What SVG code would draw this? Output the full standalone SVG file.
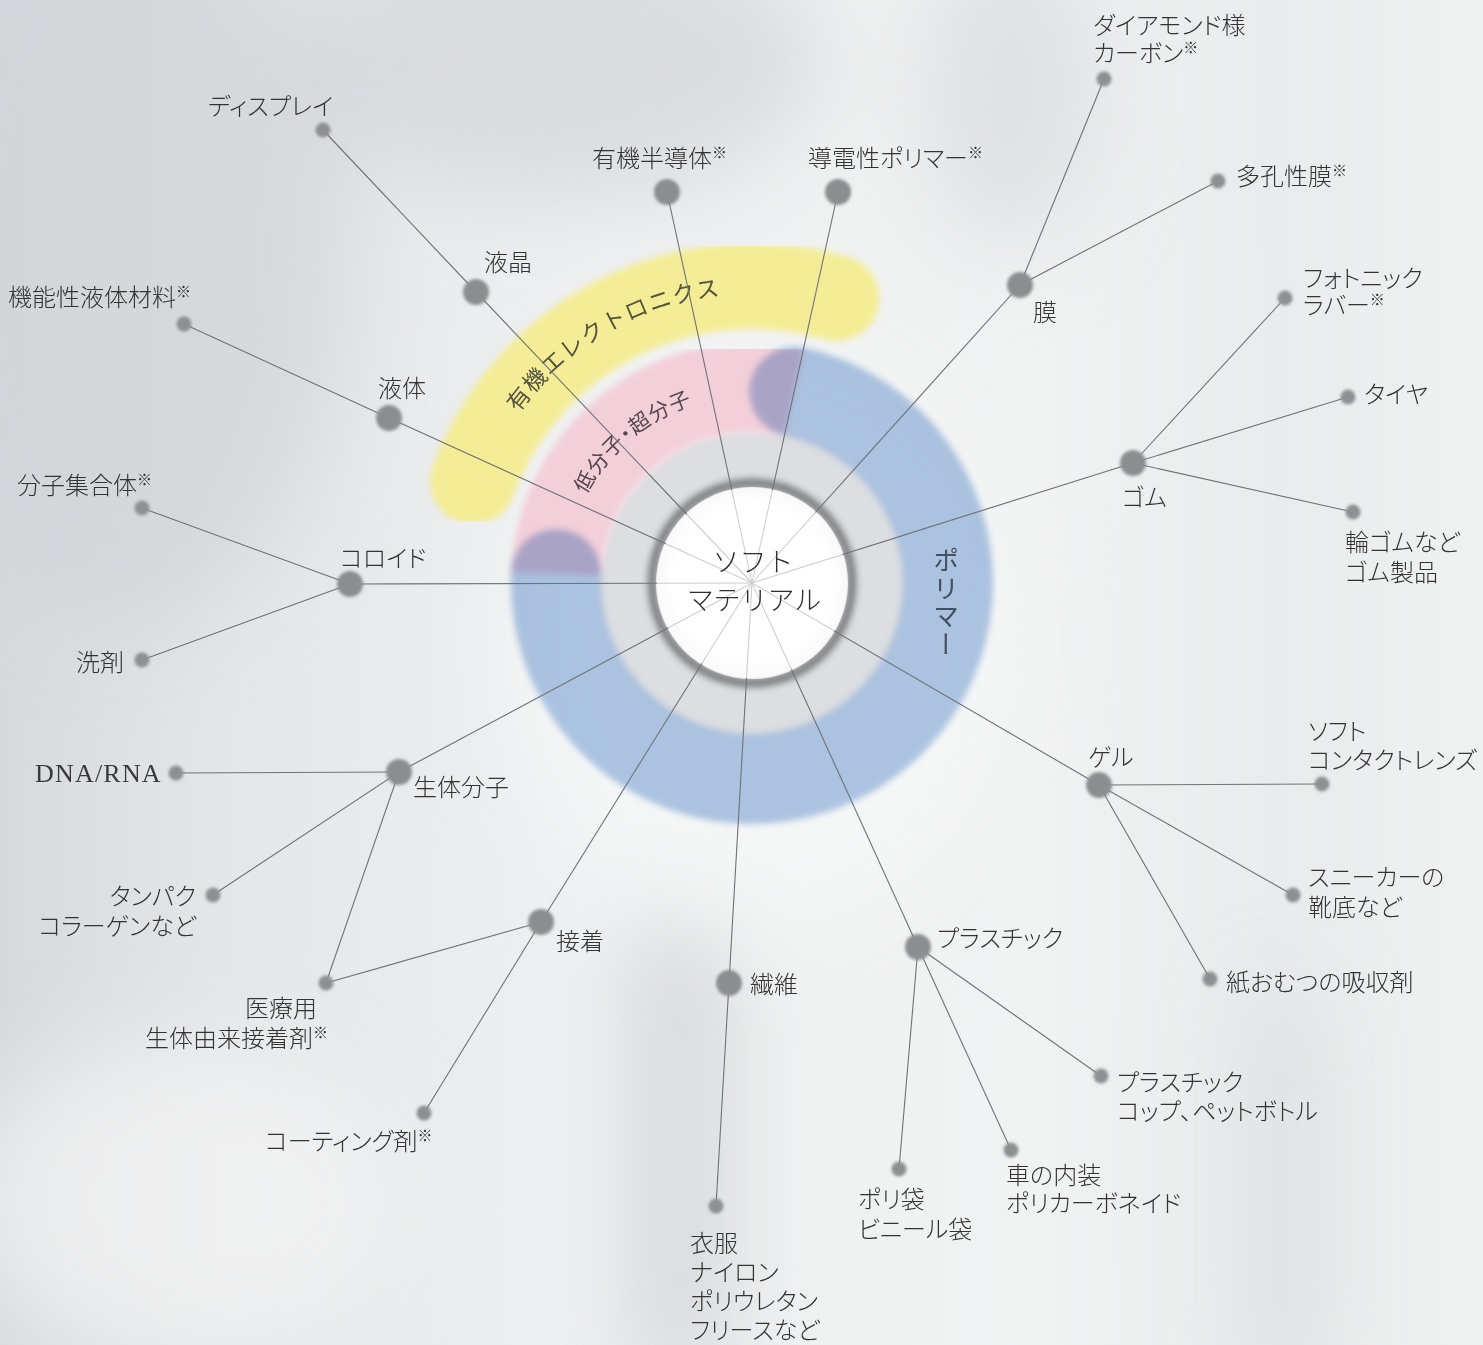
<svg xmlns="http://www.w3.org/2000/svg" width="1483" height="1345" viewBox="0 0 1483 1345">
  <defs>
    <linearGradient id="bg" x1="0" y1="0" x2="1" y2="0">
      <stop offset="0" stop-color="#d7dadd"/>
      <stop offset="0.15" stop-color="#e4e6e8"/>
      <stop offset="0.4" stop-color="#eef0f1"/>
      <stop offset="0.7" stop-color="#f1f2f2"/>
      <stop offset="0.86" stop-color="#e9ebec"/>
      <stop offset="1" stop-color="#f0f1f1"/>
    </linearGradient>
    <radialGradient id="whiteDisc" cx="0.5" cy="0.5" r="0.5">
      <stop offset="0" stop-color="#ffffff"/>
      <stop offset="0.8" stop-color="#ffffff"/>
      <stop offset="1" stop-color="#eeeeef"/>
    </radialGradient>
    <filter id="bigBlur" x="-50%" y="-50%" width="200%" height="200%">
      <feGaussianBlur stdDeviation="45"/>
    </filter>
    <filter id="bandBlur" x="-20%" y="-20%" width="140%" height="140%">
      <feGaussianBlur stdDeviation="3"/>
    </filter>
    <filter id="ringBlur" x="-20%" y="-20%" width="140%" height="140%">
      <feGaussianBlur stdDeviation="3"/>
    </filter>
    <filter id="dotBlur" x="-50%" y="-50%" width="200%" height="200%">
      <feGaussianBlur stdDeviation="1.5"/>
    </filter>
    <path id="yellowText" d="M 518.2 413.1 A 289 289 0 0 1 777.2 295.1"/>
    <path id="pinkText" d="M 586 494.7 A 188 188 0 0 1 735.6 395.7"/>
  </defs>
  <style>
    text { font-family: "Noto Sans CJK JP", "Noto Sans", sans-serif; font-weight: 300; fill: #333333; font-size: 24px; font-feature-settings: "palt"; }
    .k { font-size: 15px; }
    .center { font-size: 27px; fill: #2e2e2e; font-feature-settings: normal; }
    .serif { font-family: "Liberation Serif", "DejaVu Serif", serif; font-size: 26px; letter-spacing: 1.2px; font-weight: 400; fill: #3a3a3a; }
    .hub { fill: #8c8d91; filter: url(#dotBlur); }
    .leaf { fill: #8e8f93; filter: url(#dotBlur); }
    .conn { stroke: #707276; stroke-width: 1.1; fill: none; }
    .arcLabel { font-size: 23px; fill: #55543f; letter-spacing: 1.2px; font-feature-settings: normal; font-weight: 400; }
    .pinkLabel { font-size: 21px; fill: #54474d; letter-spacing: 1px; font-weight: 400; }
    .vert { font-size: 26px; fill: #46505f; letter-spacing: 2px; writing-mode: vertical-rl; font-feature-settings: normal; font-weight: 400; }
  </style>

  <g id="background">
    <rect x="0" y="0" width="1483" height="1345" fill="url(#bg)"/>
    <g filter="url(#bigBlur)">
      <ellipse cx="120" cy="250" rx="230" ry="380" fill="#d0d4d7" opacity="0.7"/>
      <ellipse cx="560" cy="60" rx="260" ry="140" fill="#d3d6d9" opacity="0.75"/>
      <ellipse cx="1010" cy="90" rx="90" ry="160" fill="#d4d7da" opacity="0.6"/>
      <rect x="645" y="900" width="70" height="480" fill="#c4c7ca" opacity="0.75"/>
      <rect x="1260" y="1000" width="50" height="380" fill="#d2d5d8" opacity="0.7"/>
      <ellipse cx="760" cy="640" rx="260" ry="300" fill="#f6f7f7" opacity="0.8"/>
      <ellipse cx="180" cy="1200" rx="220" ry="160" fill="#f3f4f4" opacity="0.7"/>
    </g>
  </g>

  <g id="rings">
    <circle cx="752" cy="583" r="152" fill="#dcdee1" filter="url(#ringBlur)"/>
    <path d="M 472.9 481.4 A 297 297 0 0 1 836.3 298.2" fill="none" stroke="#f4ed96" stroke-width="86" stroke-linecap="round" filter="url(#bandBlur)"/>
    <path d="M 556.2 574.1 A 196 196 0 0 1 794.4 391.6" fill="none" stroke="#f3cfd9" stroke-width="90" stroke-linecap="butt" filter="url(#bandBlur)"/>
    <path d="M 794.4 391.6 A 196 196 0 1 1 556.2 574.1" fill="none" stroke="#b2cae9" stroke-width="90" stroke-linecap="round" filter="url(#bandBlur)" style="mix-blend-mode: multiply"/>
    <circle cx="752" cy="583" r="100" fill="none" stroke="#7e8084" stroke-width="9" filter="url(#ringBlur)"/>
    <circle cx="752" cy="583" r="96" fill="url(#whiteDisc)"/>
    <text class="arcLabel"><textPath href="#yellowText">有機エレクトロニクス</textPath></text>
    <text class="pinkLabel"><textPath href="#pinkText">低分子・超分子</textPath></text>
    <text class="vert" x="946" y="547">ポリマー</text>
  </g>

  <g id="connectors">
    <line class="conn" x1="752" y1="583" x2="476" y2="292"/>
    <line class="conn" x1="752" y1="583" x2="667" y2="192"/>
    <line class="conn" x1="752" y1="583" x2="838" y2="192"/>
    <line class="conn" x1="752" y1="583" x2="1020" y2="285"/>
    <line class="conn" x1="752" y1="583" x2="1133" y2="463"/>
    <line class="conn" x1="752" y1="583" x2="1099" y2="785"/>
    <line class="conn" x1="752" y1="583" x2="918" y2="947"/>
    <line class="conn" x1="752" y1="583" x2="729" y2="983"/>
    <line class="conn" x1="752" y1="583" x2="541" y2="922"/>
    <line class="conn" x1="752" y1="583" x2="399" y2="772"/>
    <line class="conn" x1="752" y1="583" x2="350" y2="584"/>
    <line class="conn" x1="752" y1="583" x2="389" y2="418"/>
    <line class="conn" x1="476" y1="292" x2="323" y2="130"/>
    <line class="conn" x1="389" y1="418" x2="184" y2="324"/>
    <line class="conn" x1="350" y1="584" x2="142" y2="508"/>
    <line class="conn" x1="350" y1="584" x2="142" y2="660"/>
    <line class="conn" x1="399" y1="772" x2="176" y2="773"/>
    <line class="conn" x1="399" y1="772" x2="213" y2="895"/>
    <line class="conn" x1="399" y1="772" x2="326" y2="983"/>
    <line class="conn" x1="541" y1="922" x2="326" y2="983"/>
    <line class="conn" x1="541" y1="922" x2="424" y2="1113"/>
    <line class="conn" x1="729" y1="983" x2="716" y2="1206"/>
    <line class="conn" x1="918" y1="947" x2="899" y2="1169"/>
    <line class="conn" x1="918" y1="947" x2="1011" y2="1150"/>
    <line class="conn" x1="918" y1="947" x2="1101" y2="1076"/>
    <line class="conn" x1="1099" y1="785" x2="1210" y2="979"/>
    <line class="conn" x1="1099" y1="785" x2="1293" y2="895"/>
    <line class="conn" x1="1099" y1="785" x2="1322" y2="784"/>
    <line class="conn" x1="1133" y1="463" x2="1353" y2="512"/>
    <line class="conn" x1="1133" y1="463" x2="1348" y2="397"/>
    <line class="conn" x1="1133" y1="463" x2="1285" y2="298"/>
    <line class="conn" x1="1020" y1="285" x2="1218" y2="181"/>
    <line class="conn" x1="1020" y1="285" x2="1104" y2="79"/>
  </g>

  <g id="center-node">
    <circle cx="752" cy="583" r="95" fill="#ffffff" opacity="0.65"/>
    <text class="center" x="753" y="572" text-anchor="middle">ソフト</text>
    <text class="center" x="754" y="610" text-anchor="middle">マテリアル</text>
  </g>

  <g id="node-ekisho"><circle class="hub" cx="476" cy="292" r="13"/><text x="484" y="271">液晶</text></g>
  <g id="node-display"><circle class="leaf" cx="323" cy="130" r="7.5"/><text x="208" y="115">ディスプレイ</text></g>
  <g id="node-yuki-handotai"><circle class="hub" cx="667" cy="192" r="13"/><text x="592" y="167">有機半導体<tspan class="k" dy="-9">※</tspan></text></g>
  <g id="node-dodensei"><circle class="hub" cx="838" cy="192" r="13"/><text x="808" y="167">導電性ポリマー<tspan class="k" dy="-9">※</tspan></text></g>
  <g id="node-maku"><circle class="hub" cx="1020" cy="285" r="13"/><text x="1033" y="321">膜</text></g>
  <g id="node-diamond"><circle class="leaf" cx="1104" cy="79" r="7.5"/><text x="1093" y="34">ダイアモンド様</text><text x="1093" y="62">カーボン<tspan class="k" dy="-9">※</tspan></text></g>
  <g id="node-takousei"><circle class="leaf" cx="1218" cy="181" r="7.5"/><text x="1236" y="185">多孔性膜<tspan class="k" dy="-9">※</tspan></text></g>
  <g id="node-gomu"><circle class="hub" cx="1133" cy="463" r="13"/><text x="1122" y="506">ゴム</text></g>
  <g id="node-photonic"><circle class="leaf" cx="1285" cy="298" r="7.5"/><text x="1303" y="287">フォトニック</text><text x="1303" y="314">ラバー<tspan class="k" dy="-9">※</tspan></text></g>
  <g id="node-taiya"><circle class="leaf" cx="1348" cy="397" r="7.5"/><text x="1364" y="403">タイヤ</text></g>
  <g id="node-wagomu"><circle class="leaf" cx="1353" cy="512" r="7.5"/><text x="1345" y="551">輪ゴムなど</text><text x="1345" y="581">ゴム製品</text></g>
  <g id="node-geru"><circle class="hub" cx="1099" cy="785" r="13"/><text x="1088" y="766">ゲル</text></g>
  <g id="node-contact"><circle class="leaf" cx="1322" cy="784" r="7.5"/><text x="1308" y="740">ソフト</text><text x="1308" y="769">コンタクトレンズ</text></g>
  <g id="node-sneaker"><circle class="leaf" cx="1293" cy="895" r="7.5"/><text x="1308" y="886">スニーカーの</text><text x="1308" y="916">靴底など</text></g>
  <g id="node-omutsu"><circle class="leaf" cx="1210" cy="979" r="7.5"/><text x="1226" y="991">紙おむつの吸収剤</text></g>
  <g id="node-plastic"><circle class="hub" cx="918" cy="947" r="13"/><text x="937" y="947">プラスチック</text></g>
  <g id="node-cup"><circle class="leaf" cx="1101" cy="1076" r="7.5"/><text x="1117" y="1091">プラスチック</text><text x="1117" y="1120">コップ、ペットボトル</text></g>
  <g id="node-car"><circle class="leaf" cx="1011" cy="1150" r="7.5"/><text x="1006" y="1184">車の内装</text><text x="1006" y="1212">ポリカーボネイド</text></g>
  <g id="node-polybag"><circle class="leaf" cx="899" cy="1169" r="7.5"/><text x="858" y="1208">ポリ袋</text><text x="858" y="1238">ビニール袋</text></g>
  <g id="node-seni"><circle class="hub" cx="729" cy="983" r="13"/><text x="750" y="993">繊維</text></g>
  <g id="node-ifuku"><circle class="leaf" cx="716" cy="1206" r="7.5"/><text x="690" y="1252">衣服</text><text x="690" y="1281">ナイロン</text><text x="690" y="1310">ポリウレタン</text><text x="690" y="1339">フリースなど</text></g>
  <g id="node-secchaku"><circle class="hub" cx="541" cy="922" r="13"/><text x="556" y="950">接着</text></g>
  <g id="node-iryo"><circle class="leaf" cx="326" cy="983" r="7.5"/><text x="245" y="1017">医療用</text><text x="145" y="1047">生体由来接着剤<tspan class="k" dy="-9">※</tspan></text></g>
  <g id="node-coating"><circle class="leaf" cx="424" cy="1113" r="7.5"/><text x="265" y="1150">コーティング剤<tspan class="k" dy="-9">※</tspan></text></g>
  <g id="node-seitai"><circle class="hub" cx="399" cy="772" r="13"/><text x="413" y="796">生体分子</text></g>
  <g id="node-dna"><circle class="leaf" cx="176" cy="773" r="7.5"/><text class="serif" x="35" y="782">DNA/RNA</text></g>
  <g id="node-tanpaku"><circle class="leaf" cx="213" cy="895" r="7.5"/><text x="196" y="905" text-anchor="end">タンパク</text><text x="196" y="935" text-anchor="end">コラーゲンなど</text></g>
  <g id="node-colloid"><circle class="hub" cx="350" cy="584" r="13"/><text x="340" y="567">コロイド</text></g>
  <g id="node-bunshi"><circle class="leaf" cx="142" cy="508" r="7.5"/><text x="17" y="494">分子集合体<tspan class="k" dy="-9">※</tspan></text></g>
  <g id="node-senzai"><circle class="leaf" cx="142" cy="660" r="7.5"/><text x="76" y="671">洗剤</text></g>
  <g id="node-ekitai"><circle class="hub" cx="389" cy="418" r="13"/><text x="378" y="397">液体</text></g>
  <g id="node-kinousei"><circle class="leaf" cx="184" cy="324" r="7.5"/><text x="8" y="306">機能性液体材料<tspan class="k" dy="-9">※</tspan></text></g>
</svg>
